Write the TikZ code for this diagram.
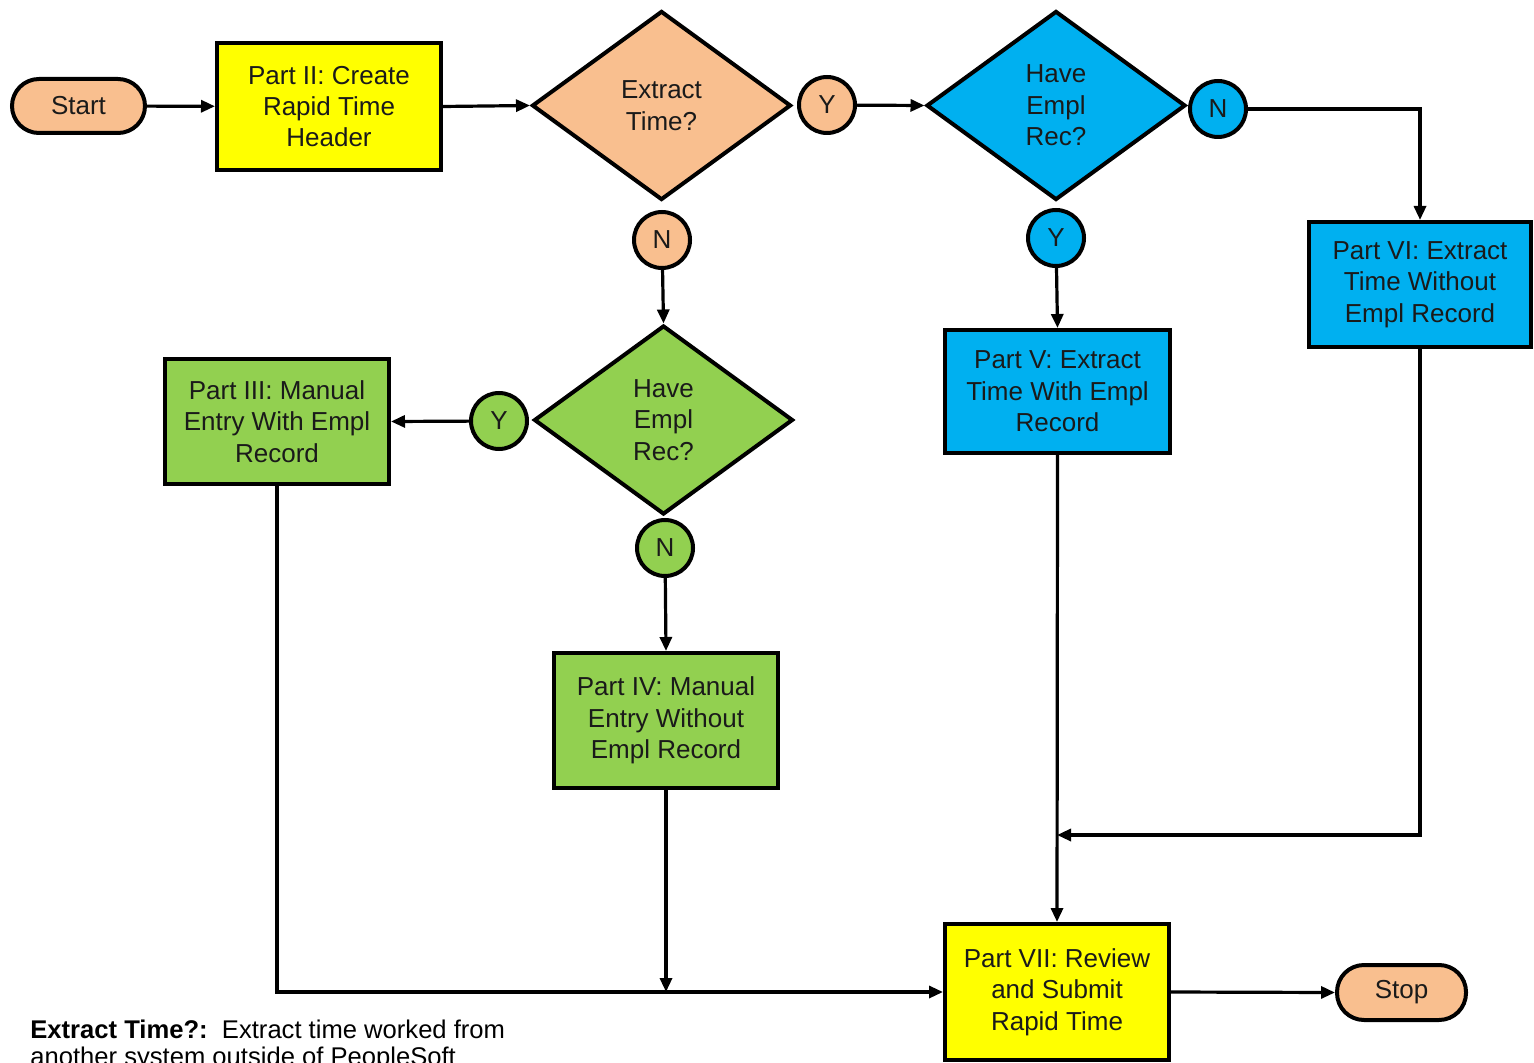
\documentclass[tikz,border=0pt]{standalone}
\usepackage{fontspec}
\setmainfont{Liberation Sans}
\usetikzlibrary{shapes.geometric,arrows.meta}
\definecolor{cOrange}{HTML}{F9BF8F}
\definecolor{cYellow}{HTML}{FFFF00}
\definecolor{cBlue}{HTML}{00B0F0}
\definecolor{cGreen}{HTML}{92D050}
\definecolor{cText}{HTML}{1A1A1A}
\tikzset{
  box/.style={draw=black, line width=2pt, rectangle, align=center, inner sep=0pt,
    minimum width=112pt, font=\fontsize{13}{15.7}\selectfont, text=cText},
  term/.style={draw=black, line width=2pt, rectangle, rounded corners=13.5pt, inner sep=0pt,
    fill=cOrange, font=\fontsize{13}{15.7}\selectfont, text=cText},
  dec/.style={draw=black, line width=2pt, diamond, align=center, inner sep=0pt,
    minimum width=129.5pt, minimum height=94.5pt, font=\fontsize{13}{15.7}\selectfont, text=cText},
  lbl/.style={draw=black, line width=2pt, circle, inner sep=0pt, minimum size=28pt,
    font=\fontsize{13}{15.7}\selectfont, text=cText},
  conn/.style={line width=1.6pt, -{Triangle[length=7pt,width=6pt]}},
  note/.style={anchor=base west, inner sep=0pt, font=\fontsize{12.8}{14}\selectfont, text=black}
}
\begin{document}
\begin{tikzpicture}[x=0.5pt,y=-0.5pt]
\clip (0,0) rectangle (1534,1063);
\fill[white] (0,0) rectangle (1534,1063);
% nodes
\node[term, minimum width=66.5pt, minimum height=27pt] (start) at (78.5,106) {Start};
\node[box, fill=cYellow, minimum height=63.5pt] (p2) at (329,106.5) {Part II: Create\\Rapid Time\\Header};
\node[dec, fill=cOrange] (d1) at (661.5,105.5) {Extract\\Time?};
\node[lbl, fill=cOrange] (y1) at (827,105) {Y};
\node[lbl, fill=cOrange] (n1) at (662,240) {N};
\node[dec, fill=cBlue] (d2) at (1056,105.5) {Have\\Empl\\Rec?};
\node[lbl, fill=cBlue] (n2) at (1218,109) {N};
\node[lbl, fill=cBlue] (y2) at (1056,238) {Y};
\node[box, fill=cBlue, minimum width=111pt, minimum height=62.5pt] (p6) at (1420,284.5) {Part VI: Extract\\Time Without\\Empl Record};
\node[box, fill=cBlue, minimum width=112.5pt, minimum height=61.5pt] (p5) at (1057.5,391.5) {Part V: Extract\\Time With Empl\\Record};
\node[dec, fill=cGreen] (d3) at (663.5,420) {Have\\Empl\\Rec?};
\node[lbl, fill=cGreen] (y3) at (499,421) {Y};
\node[box, fill=cGreen, minimum height=62.5pt] (p3) at (277,421.5) {Part III: Manual\\Entry With Empl\\Record};
\node[lbl, fill=cGreen] (n3) at (665,548) {N};
\node[box, fill=cGreen, minimum height=67.5pt] (p4) at (666,720.5) {Part IV: Manual\\Entry Without\\Empl Record};
\node[box, fill=cYellow, minimum height=68pt] (p7) at (1057,992) {Part VII: Review\\and Submit\\Rapid Time};
\node[term, minimum width=64.5pt, minimum height=27.5pt] (stop) at (1401.5,992.5) {Stop};
% helper coordinates
\coordinate (j1) at (1057,835);
\coordinate (j2) at (666,992);
% connectors
\draw[conn] (start) -- (p2);
\draw[conn] (p2.east) -- (d1.west);
\draw[conn] (y1) -- (d2.west);
\draw[conn] (n2.east) -| (p6.north);
\draw[conn] (y2) -- (p5.north);
\draw[conn] (n1) -- (d3.north);
\draw[conn] (y3) -- (p3.east);
\draw[conn] (n3) -- (p4.north);
\draw[conn] (p6.south) |- (j1);
\draw[conn] (p5.south) -- (p7.north);
\draw[conn] (p3.south) |- (p7.west);
\draw[conn] (p4.south) -- (j2);
\draw[conn] (p7.east) -- (stop.west);
% note
\node[note] (t1) at (30,1038) {\textbf{Extract Time?:}\ \ Extract time worked from};
\node[note] (t2) at (30,1065) {another system outside of PeopleSoft};
\end{tikzpicture}
\end{document}
